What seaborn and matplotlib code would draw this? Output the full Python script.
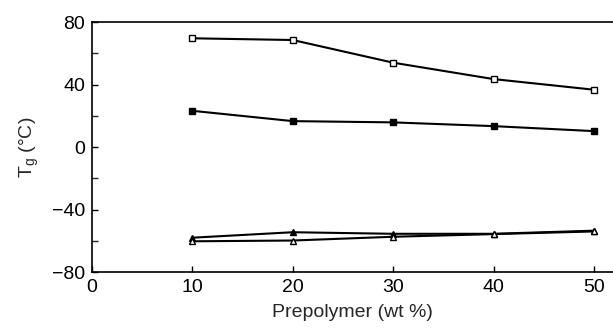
import pandas as pd
import numpy as np
import matplotlib.pyplot as plt
import seaborn as sns

sns.set_style('ticks')
plt.rcParams['font.family'] = ['Liberation Sans', 'DejaVu Sans']

prepolymer = [10, 20, 30, 40, 50]
open_sq = [69.6, 68.5, 54.0, 43.5, 36.7]
filled_sq = [23.2, 16.6, 15.8, 13.4, 10.2]
filled_tri = [-58.0, -54.5, -55.5, -55.5, -53.5]
open_tri = [-60.3, -59.8, -57.4, -55.7, -54.0]

series = {'open_sq': open_sq, 'filled_sq': filled_sq,
          'filled_tri': filled_tri, 'open_tri': open_tri}
styles = {'open_sq': ('s', 'white'), 'filled_sq': ('s', 'black'),
          'filled_tri': ('^', 'black'), 'open_tri': ('^', 'white')}

fig = plt.figure(figsize=(6.13, 3.29), dpi=100)
ax = fig.add_axes([0.150, 0.173, 0.85, 0.760])

for name, vals in series.items():
    df = pd.DataFrame({'x': prepolymer, 'y': vals})
    mk, fc = styles[name]
    sns.lineplot(data=df, x='x', y='y', ax=ax, color='black', lw=1.5,
                 marker=mk, markersize=5, markerfacecolor=fc,
                 markeredgecolor='black', markeredgewidth=1)

ax.set_xlim(0, 51.9)
ax.set_ylim(-80, 80)
ax.set_xticks([0, 10, 20, 30, 40, 50])
ax.set_yticks([-80, -40, 0, 40, 80])
ax.set_yticks([-60, -20, 20, 60], minor=True)
ax.tick_params(direction='in', length=4, width=1, labelsize=14, colors='black', pad=5)
ax.tick_params(which='minor', direction='in', length=4, width=1)
ax.set_yticklabels(['\u221280', '\u221240', '0', '40', '80'])
ax.spines['right'].set_visible(False)
for s in ['left', 'top', 'bottom']:
    ax.spines[s].set_linewidth(1.2)
    ax.spines[s].set_color('black')

ax.set_xlabel('Prepolymer (wt %)', fontsize=14, labelpad=6)
ax.set_ylabel('T$_{\\mathregular{g}}$ (\u00b0C)', fontsize=14, labelpad=8)

fig.savefig('out.png', dpi=100)
